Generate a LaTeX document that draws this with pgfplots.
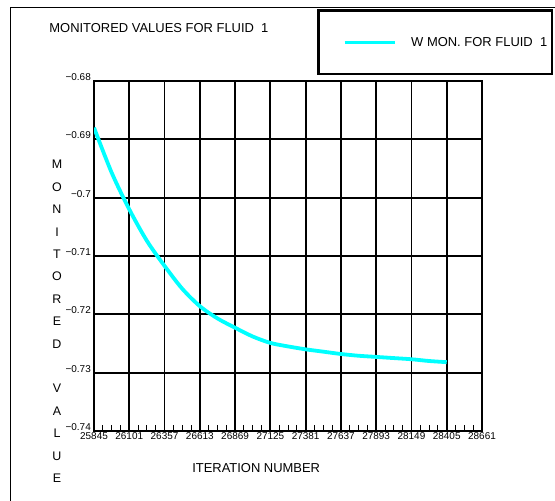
\documentclass[border=0pt]{standalone}
\usepackage{fontspec}
\setmainfont{Liberation Sans}
\usepackage{pgfplots}
\pgfplotsset{compat=1.18}
\definecolor{mcyan}{RGB}{0,255,255}
\begin{document}
\begin{tikzpicture}
\useasboundingbox (0,0) rectangle (555bp,501bp);
% outer frame
\draw[line width=1.3bp] (10.7bp,-5bp) -- (10.7bp,493.7bp) -- (560bp,493.7bp);
% legend frame
\draw[line width=2.8bp, fill=white] (318.7bp,427bp) rectangle (552bp,490.7bp);
\begin{axis}[
  at={(94bp,70bp)}, anchor=south west,
  scale only axis, width=388bp, height=350bp,
  xmin=25845, xmax=28661, ymin=-0.74, ymax=-0.68,
  scaled x ticks=false, scaled y ticks=false,
  xtick={25845,26101,26357,26613,26869,27125,27381,27637,27893,28149,28405,28661},
  xticklabels={25845,26101,26357,26613,26869,27125,27381,27637,27893,28149,28405,28661},
  ytick={-0.74,-0.73,-0.72,-0.71,-0.70,-0.69,-0.68},
  yticklabels={−0.74,−0.73,−0.72,−0.71,−0.7,−0.69,−0.68},
  minor x tick num=3,
  tick align=inside, tick pos=left,
  major tick length=0pt, minor tick length=6bp,
  every tick/.style={black, line width=1bp},
  xmajorgrids, ymajorgrids,
  major grid style={black, line width=1.8bp},
  axis line style={black, line width=2.6bp},
  /pgf/number format/assume math mode=true,
  ticklabel style={font=\fontsize{10}{11}\selectfont},
  xticklabel style={anchor=north, yshift=-0.5bp, inner sep=1bp},
  yticklabel style={anchor=east, xshift=-2bp, yshift=4bp, inner sep=1bp},
  title={MONITORED VALUES FOR FLUID\ \ 1},
  title style={at={(axis description cs:-0.124,1.134)}, anchor=west, font=\fontsize{13}{15}\selectfont},
  xlabel={ITERATION NUMBER},
  every axis x label/.style={at={(axis description cs:0.418,-0.106)}, anchor=center, font=\fontsize{13}{15}\selectfont},
  ylabel={M\\O\\N\\I\\T\\O\\R\\E\\D\\ \\V\\A\\L\\U\\E},
  every axis y label/.style={at={(axis description cs:-0.0954,0.313)}, anchor=center, align=center, font=\fontsize{12.5}{22.5}\selectfont},
  legend style={at={(axis description cs:0.6418,1.1086)}, anchor=west, draw=none, fill=none, inner sep=0pt,
    nodes={inner sep=0pt}, column sep=15bp, font=\fontsize{13}{15}\selectfont},
  legend image code/.code={\draw[#1, line width=3bp] (0bp,0bp) -- (50bp,0bp);},
]
\addplot[mcyan, line width=3.8bp, smooth] coordinates {
(25845,-0.6880) (25973,-0.6957) (26101,-0.7020) (26229,-0.7074)
(26357,-0.7117) (26485,-0.7156) (26613,-0.7186) (26741,-0.7207)
(26869,-0.7223) (26997,-0.7238) (27125,-0.7249) (27253,-0.7255)
(27381,-0.7260) (27509,-0.7264) (27637,-0.7268) (27765,-0.7271)
(27893,-0.7273) (28021,-0.7275) (28149,-0.7277) (28277,-0.7280)
(28405,-0.7282)
};
\addlegendentry{W MON. FOR FLUID\ \ 1}
\end{axis}
\end{tikzpicture}
\end{document}
